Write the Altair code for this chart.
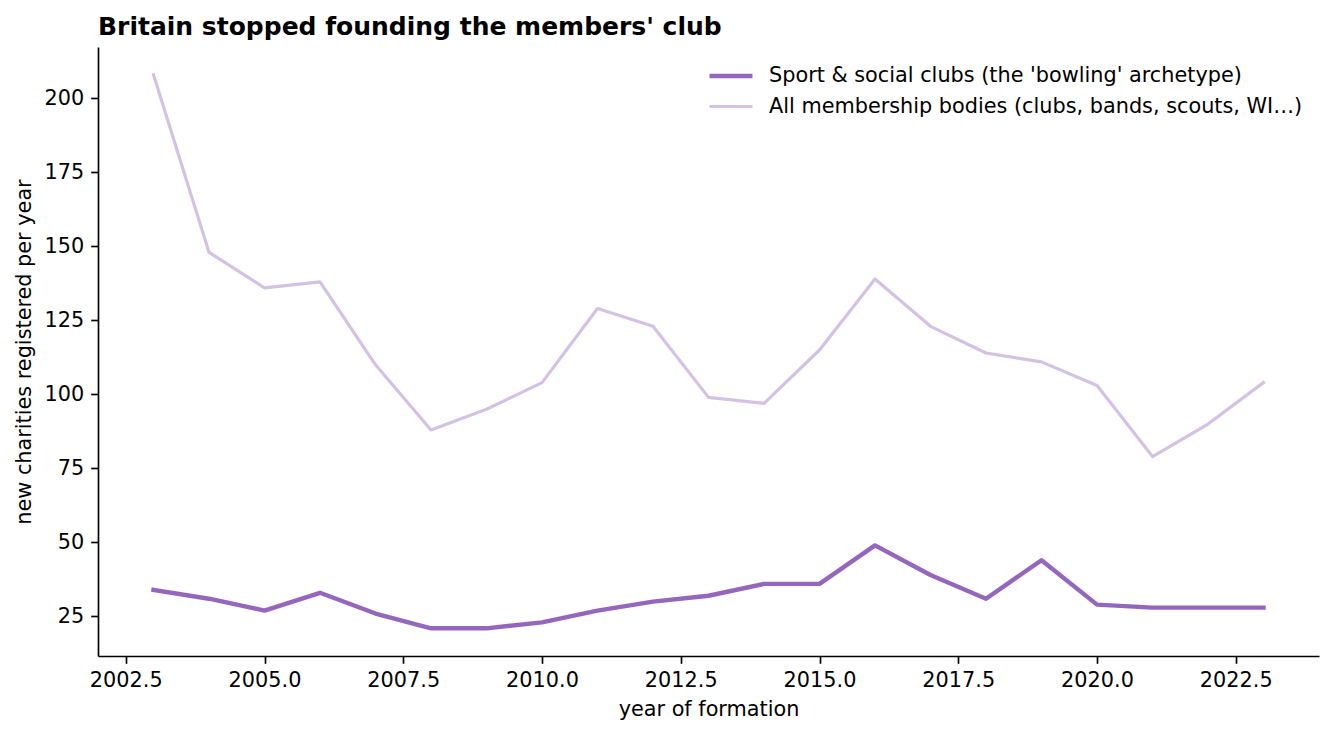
import altair as alt
import pandas as pd

years = list(range(2003, 2024))
sport_clubs = [34, 31, 27, 33, 26, 21, 21, 23, 27, 30, 32, 36, 36, 49, 39, 31, 44, 29, 28, 28, 28]
all_bodies = [208, 148, 136, 138, 110, 88, 95, 104, 129, 123, 99, 97, 115, 139, 123, 114, 111, 103, 79, 90, 104]

series_names = [
    "Sport & social clubs (the 'bowling' archetype)",
    "All membership bodies (clubs, bands, scouts, WI…)",
]
series_colors = ["#9467bd", "#d4c2e5"]
series_widths = [4.4, 3.2]

x_ticks = [2002.5, 2005.0, 2007.5, 2010.0, 2012.5, 2015.0, 2017.5, 2020.0, 2022.5]
y_ticks = [25, 50, 75, 100, 125, 150, 175, 200]

rows = []
for name, values in zip(series_names, [sport_clubs, all_bodies]):
    for yr, v in zip(years, values):
        rows.append({"year": yr, "count": v, "series": name})
source = pd.DataFrame(rows)

FONT = "DejaVu Sans"

legend = alt.Legend(
    title=None,
    orient="top-right",
    offset=16,
    padding=0,
    symbolType="M-2,0H2",
    symbolSize=462,
    labelOffset=25,
    labelFontSize=20.8,
    labelFont=FONT,
    labelColor="#000000",
    rowPadding=8,
    labelLimit=800,
)

chart = alt.Chart(source).mark_line(strokeCap="square", strokeJoin="round").encode(
    x=alt.X(
        "year:Q",
        title="year of formation",
        scale=alt.Scale(domain=[2002, 2024], nice=False, zero=False),
        axis=alt.Axis(values=x_ticks, format=".1f", grid=False, titlePadding=9),
    ),
    y=alt.Y(
        "count:Q",
        title="new charities registered per year",
        scale=alt.Scale(domain=[11.65, 217.35], nice=False, zero=False),
        axis=alt.Axis(values=y_ticks, format="d", grid=False, titlePadding=10),
    ),
    color=alt.Color(
        "series:N",
        scale=alt.Scale(domain=series_names, range=series_colors),
        legend=legend,
    ),
    strokeWidth=alt.StrokeWidth(
        "series:N",
        scale=alt.Scale(domain=series_names, range=series_widths),
        legend=legend,
    ),
    order="year:Q",
).properties(
    width=1221,
    height=609,
    autosize=alt.AutoSizeParams(type="none"),
    padding={"left": 90, "top": 39, "right": 4, "bottom": 76},
    title=alt.TitleParams(
        "Britain stopped founding the members' club",
        anchor="start",
        frame="group",
        font=FONT,
        fontSize=25,
        fontWeight="bold",
        color="#000000",
        baseline="alphabetic",
        offset=13,
        dy=26,
    ),
).configure_view(
    strokeWidth=0
).configure_axis(
    labelFont=FONT,
    labelFontSize=20.8,
    labelColor="#000000",
    titleFont=FONT,
    titleFontSize=20.8,
    titleFontWeight="normal",
    titleColor="#000000",
    domainColor="#000000",
    domainWidth=1.67,
    tickColor="#000000",
    tickWidth=1.67,
    tickSize=7.3,
    labelPadding=7,
)

chart.save("out.html", embed_options={"renderer": "svg", "actions": False})
